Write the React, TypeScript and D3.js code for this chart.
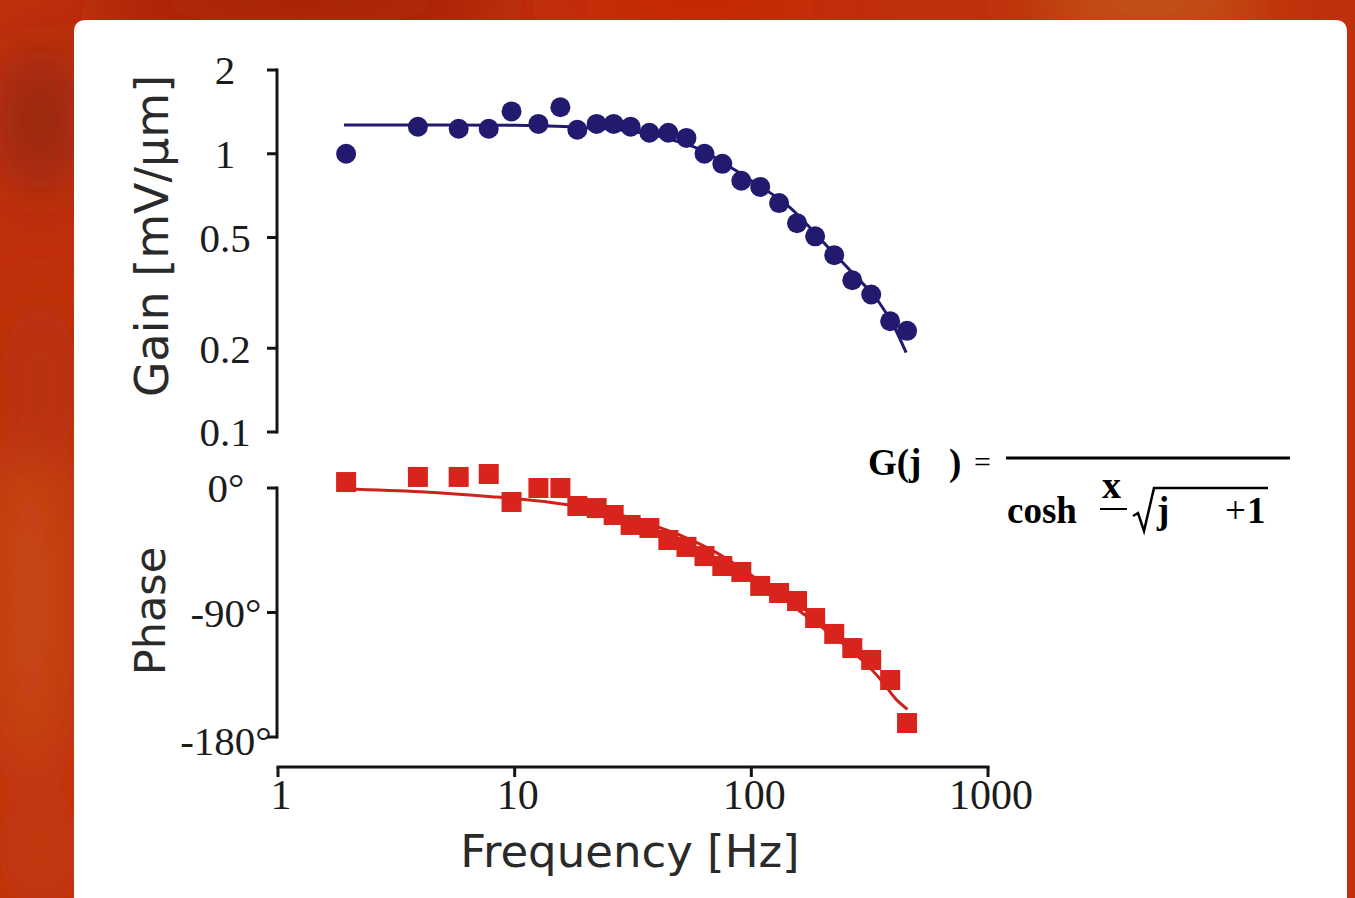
import React from "react";
import * as d3 from "d3";

// ---- data ----
const freqs = [1.94, 3.9, 5.8, 7.77, 9.7, 12.6, 15.6, 18.4, 22.2, 26.2, 30.9, 37.1, 44.6, 53.2, 63.4, 75.4, 90.7, 109, 131, 156, 186, 224, 267, 321, 386, 455];
const gainValues = [1.0, 1.25, 1.23, 1.23, 1.42, 1.28, 1.47, 1.22, 1.28, 1.28, 1.25, 1.19, 1.19, 1.14, 1.0, 0.92, 0.8, 0.76, 0.665, 0.563, 0.505, 0.432, 0.351, 0.312, 0.25, 0.231];
const phaseValues = [4.3, 8.0, 8.0, 10.1, -10.1, 0, 0, -13.0, -14.5, -19.5, -26.7, -28.9, -37.6, -42.6, -49.2, -56.4, -60.7, -70.8, -75.9, -81.7, -94.0, -105.5, -115.7, -124.3, -138.8, -169.9];

const gainFitFreq = [1.9, 5, 10, 15, 20, 30, 40, 50, 60, 70, 86, 100, 145, 209, 270, 347, 400, 451];
const gainFitValues = [1.27, 1.27, 1.265, 1.255, 1.24, 1.21, 1.16, 1.1, 1.04, 0.97, 0.87, 0.8, 0.643, 0.465, 0.37, 0.292, 0.24, 0.193];

const phaseFitFreq = [1.9, 4, 8, 14.5, 20, 30, 40, 50, 70, 100, 130, 163, 200, 250, 300, 350, 410, 457];
const phaseFitValues = [-0.7, -2.7, -6.3, -10.6, -14, -21, -28, -34, -46, -63, -77, -90, -101, -114, -126, -138, -153, -160];

const xTicks = [1, 10, 100, 1000];
const xTickLabels = ["1", "10", "100", "1000"];
const gainTicks = [2, 1, 0.5, 0.2, 0.1];
const gainTickLabels = ["2", "1", "0.5", "0.2", "0.1"];
const phaseTicks = [0, -90, -180];
const phaseTickLabels = ["0°", "-90°", "-180°"];

const BLUE = "#221a6f";
const RED = "#d9241e";
const SERIF = "'Liberation Serif', 'Times New Roman', serif";
const SANS = "'DejaVu Sans', Verdana, sans-serif";

export default function App() {
  const x = d3.scaleLog().domain([1, 1000]).range([278, 988]);
  const yGain = d3.scaleLog().domain([0.1, 2]).range([432, 70]);
  const yPhase = d3.scaleLinear().domain([-180, 0]).range([737, 488]);

  const gainLine = d3
    .line<number>()
    .x((_, i) => x(gainFitFreq[i]))
    .y((d) => yGain(d))
    .curve(d3.curveMonotoneX)(gainFitValues) as string;
  const phaseLine = d3
    .line<number>()
    .x((_, i) => x(phaseFitFreq[i]))
    .y((d) => yPhase(d))
    .curve(d3.curveMonotoneX)(phaseFitValues) as string;

  const axisX = 277;
  const axisStroke = "#151515";

  return (
    <div style={{ position: "absolute", left: 0, top: 0 }}>
      <svg width={1355} height={898} viewBox="0 0 1355 898" style={{ display: "block" }}>
        <defs>
          <filter id="blur" x="-50%" y="-50%" width="200%" height="200%">
            <feGaussianBlur stdDeviation="30" />
          </filter>
        </defs>
        {/* background */}
        <rect x={0} y={0} width={1355} height={898} fill="#c0300c" />
        <g filter="url(#blur)">
          <ellipse cx={300} cy={5} rx={220} ry={25} fill="#9c1a02" />
          <ellipse cx={40} cy={120} rx={35} ry={70} fill="#8f2612" />
          <ellipse cx={1150} cy={5} rx={120} ry={25} fill="#c2621c" />
          <ellipse cx={700} cy={5} rx={150} ry={20} fill="#c8280a" />
          <ellipse cx={30} cy={600} rx={40} ry={180} fill="#c84a14" />
          <ellipse cx={40} cy={380} rx={35} ry={90} fill="#b8300e" />
          <ellipse cx={40} cy={850} rx={40} ry={60} fill="#c23a10" />
        </g>
        {/* white panel */}
        <path d="M74,898 L74,32 Q74,20 86,20 L1335,20 Q1347,20 1347,32 L1347,898 Z" fill="#ffffff" />

        {/* Gain axis */}
        <line x1={axisX} x2={axisX} y1={yGain(2) - 1.5} y2={yGain(0.1) + 1.5} stroke={axisStroke} strokeWidth={3} />
        {gainTicks.map((t, i) => (
          <g key={"g" + i}>
            <line x1={axisX - 10} x2={axisX} y1={yGain(t)} y2={yGain(t)} stroke={axisStroke} strokeWidth={3} />
            <text x={225} y={yGain(t)} dy="0.35em" textAnchor="middle" fontFamily={SERIF} fontSize={41} fill="#1c1c1c">
              {gainTickLabels[i]}
            </text>
          </g>
        ))}
        {/* Phase axis */}
        <line x1={axisX} x2={axisX} y1={yPhase(0) - 1.5} y2={yPhase(-180) + 1.5} stroke={axisStroke} strokeWidth={3} />
        {phaseTicks.map((t, i) => (
          <g key={"p" + i}>
            <line x1={axisX - 10} x2={axisX} y1={yPhase(t)} y2={yPhase(t)} stroke={axisStroke} strokeWidth={3} />
            <text x={226} y={yPhase(t) + (t === -180 ? 4 : 0)} dy="0.35em" textAnchor="middle" fontFamily={SERIF} fontSize={41} fill="#1c1c1c">
              {phaseTickLabels[i]}
            </text>
          </g>
        ))}
        {/* X axis */}
        <line x1={x(1) - 1.5} x2={x(1000) + 1.5} y1={767} y2={767} stroke={axisStroke} strokeWidth={3} />
        {xTicks.map((t, i) => (
          <g key={"x" + i}>
            <line x1={x(t)} x2={x(t)} y1={767} y2={777} stroke={axisStroke} strokeWidth={3} />
            <text x={x(t) + 3} y={809} textAnchor="middle" fontFamily={SERIF} fontSize={42} fill="#1c1c1c">
              {xTickLabels[i]}
            </text>
          </g>
        ))}

        {/* axis titles */}
        <text transform="translate(168,236) rotate(-90)" textAnchor="middle" fontFamily={SANS} fontSize={46} fill="#2a2a2a">
          Gain [mV/µm]
        </text>
        <text transform="translate(165,611) rotate(-90)" textAnchor="middle" fontFamily={SANS} fontSize={43} fill="#2a2a2a">
          Phase
        </text>
        <text x={630} y={867} textAnchor="middle" fontFamily={SANS} fontSize={45} fill="#2a2a2a">
          Frequency [Hz]
        </text>

        {/* gain */}
        <path d={gainLine} fill="none" stroke={BLUE} strokeWidth={3} />
        {freqs.map((f, i) => (
          <circle key={"c" + i} cx={x(f)} cy={yGain(gainValues[i])} r={10} fill={BLUE} />
        ))}
        {/* phase */}
        <path d={phaseLine} fill="none" stroke={"#cc231d"} strokeWidth={3} />
        {freqs.map((f, i) => (
          <rect key={"s" + i} x={x(f) - 10} y={yPhase(phaseValues[i]) - 10} width={20} height={20} fill={RED} />
        ))}

        {/* formula */}
        <g fontFamily={SERIF} fontWeight="bold" fill="#000">
          <text x={868} y={475} fontSize={37}>G(j</text>
          <text x={949} y={475} fontSize={37}>)</text>
          <text x={974} y={472} fontSize={30} fontWeight="normal">=</text>
          <line x1={1006} x2={1290} y1={458} y2={458} stroke="#000" strokeWidth={3} />
          <text x={1007} y={523} fontSize={37}>cosh</text>
          <text x={1102} y={498} fontSize={38}>x</text>
          <line x1={1100} x2={1127} y1={509} y2={509} stroke="#000" strokeWidth={2} />
          <path d="M1133,516 L1138,513 L1144,531 L1154,488 L1268,488" fill="none" stroke="#000" strokeWidth={2.5} />
          <text x={1157} y={523} fontSize={37}>j</text>
          <text x={1225} y={523} fontSize={37} fontWeight="normal">+</text>
          <text x={1247} y={523} fontSize={37}>1</text>
        </g>
      </svg>
    </div>
  );
}
